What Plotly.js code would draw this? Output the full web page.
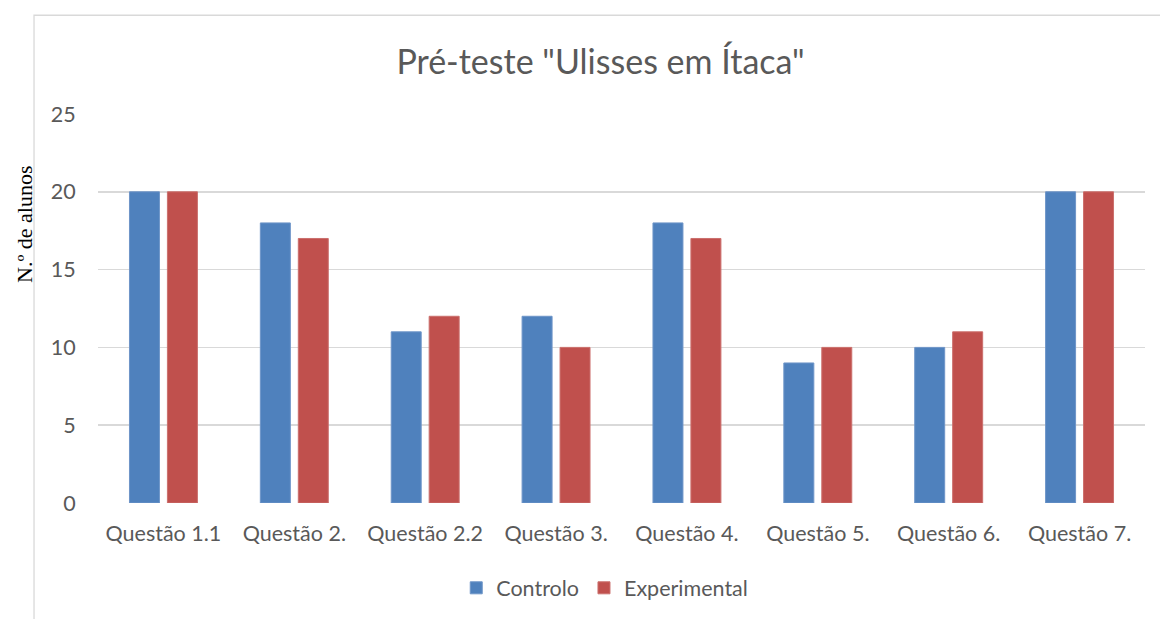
<!DOCTYPE html>
<html>
<head>
<meta charset="utf-8">
<script src="https://cdn.plot.ly/plotly-3.0.1.min.js"></script>
<style>html,body{margin:0;padding:0;background:#fff;}#chart{width:1160px;height:619px;}</style>
</head>
<body>
<div id="chart"></div>
<script>
const categories = ["Questão 1.1", "Questão 2.", "Questão 2.2", "Questão 3.", "Questão 4.", "Questão 5.", "Questão 6.", "Questão 7."];
const controlo = [20, 18, 11, 12, 18, 9, 10, 20];
const experimental = [20, 17, 12, 10, 17, 10, 11, 20];
const seriesNames = ["Controlo", "Experimental"];
const yTicks = [0, 5, 10, 15, 20, 25];

const font = "Lato, 'Open Sans', sans-serif";
const traces = [
  {type: "bar", name: seriesNames[0], x: categories, y: controlo,
   marker: {color: "#4F81BD", line: {color: "#6E95C8", width: 1}}},
  {type: "bar", name: seriesNames[1], x: categories, y: experimental,
   marker: {color: "#C0504D", line: {color: "#CB6F6C", width: 1}}}
];
const layout = {
  width: 1160, height: 619,
  margin: {l: 98, r: 15, t: 114, b: 115},
  paper_bgcolor: "#fff", plot_bgcolor: "#fff",
  font: {family: font, color: "#595959", size: 21.5},
  title: {text: 'Pré-teste "Ulisses em Ítaca"', font: {family: font, size: 34, color: "#595959"},
          x: 0.5177, xref: "container", xanchor: "center", y: 0.900, yref: "container", yanchor: "middle"},
  barmode: "group", bargap: 0.42, bargroupgap: 0.21,
  xaxis: {type: "category", showgrid: false, zeroline: false, showline: false,
          ticks: "outside", ticklen: 11, tickcolor: "rgba(0,0,0,0)", tickfont: {size: 21.5, color: "#595959"}},
  yaxis: {range: [0, 25], tickvals: yTicks, ticktext: yTicks.map(String), showgrid: true, gridcolor: "#D9D9D9", gridwidth: 1.5,
          zeroline: false, showline: false, ticks: "outside", ticklen: 17, tickcolor: "rgba(0,0,0,0)",
          tickfont: {size: 21.5, color: "#595959"}, fixedrange: true},
  showlegend: true,
  legend: {orientation: "h", x: 0.484, xanchor: "center", y: -0.215, yanchor: "middle",
           font: {size: 21.5, color: "#595959"}, itemwidth: 30, traceorder: "normal"},
  annotations: [{text: "N.º de alunos", xref: "paper", yref: "paper", x: -0.0697, y: 0.715,
                 xanchor: "center", yanchor: "middle", textangle: -90, showarrow: false,
                 font: {family: "'Liberation Serif', 'DejaVu Serif', serif", size: 22, color: "#000"}}],
  shapes: [{type: "rect", xref: "paper", yref: "paper", x0: -0.0611, x1: 1.05, y0: -0.4, y1: 1.2538,
            line: {color: "#D9D9D9", width: 1.3}, fillcolor: "rgba(0,0,0,0)", layer: "below"}]
};
Plotly.newPlot("chart", traces, layout, {displayModeBar: false, staticPlot: true});
</script>
</body>
</html>
